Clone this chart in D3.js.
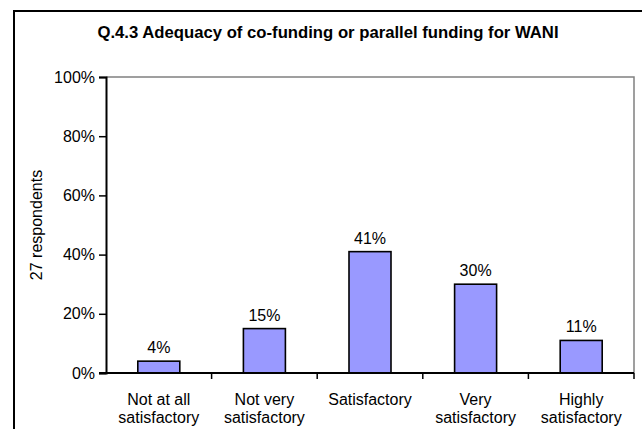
<!DOCTYPE html>
<html>
<head>
<meta charset="utf-8">
<script src="https://cdn.jsdelivr.net/npm/d3@7"></script>
<style>
  html, body { margin: 0; padding: 0; background: #fff; }
  svg { display: block; font-family: "Liberation Sans", Arial, sans-serif; }
</style>
</head>
<body>
<svg id="chart" width="642" height="429"></svg>
<script>
// Survey answers and their share of respondents (%)
const categories = [
  ["Not at all", "satisfactory"],
  ["Not very", "satisfactory"],
  ["Satisfactory"],
  ["Very", "satisfactory"],
  ["Highly", "satisfactory"]
];
const values = [4, 15, 41, 30, 11];
const yTicks = [0, 20, 40, 60, 80, 100];
const title = "Q.4.3 Adequacy of co-funding or parallel funding for WANI";
const yLabel = "27 respondents";

const svg = d3.select("#chart");
const plot = { left: 106, right: 634, top: 77, bottom: 373 };
const fontSize = 16;

// Outer chart frame (runs off the right and bottom edges)
svg.append("rect")
  .attr("x", 14).attr("y", 11)
  .attr("width", 700).attr("height", 500)
  .attr("fill", "#fff")
  .attr("stroke", "#000").attr("stroke-width", 2);

svg.append("text")
  .attr("x", 328).attr("y", 38)
  .attr("text-anchor", "middle")
  .attr("font-weight", "bold")
  .attr("font-size", 16.7)
  .text(title);

const xBand = d3.scaleBand()
  .domain(d3.range(categories.length))
  .range([plot.left, plot.right]);

const y = d3.scaleLinear().domain([0, 100]).range([plot.bottom, plot.top]);

// Plot area border: grey top and right edges
svg.append("path")
  .attr("d", `M${plot.left},${plot.top}H${plot.right}V${plot.bottom}`)
  .attr("fill", "none").attr("stroke", "#808080").attr("stroke-width", 1.5);

// Bars
svg.append("g").selectAll("rect")
  .data(values)
  .join("rect")
  .attr("x", (d, i) => xBand(i) + xBand.bandwidth() / 2 - 21)
  .attr("width", 42)
  .attr("y", d => y(d))
  .attr("height", d => y(0) - y(d))
  .attr("fill", "#9999FF")
  .attr("stroke", "#000").attr("stroke-width", 1.6);

// Value labels
svg.append("g").selectAll("text")
  .data(values)
  .join("text")
  .attr("x", (d, i) => xBand(i) + xBand.bandwidth() / 2)
  .attr("y", d => y(d) - 8)
  .attr("text-anchor", "middle")
  .attr("font-size", fontSize)
  .text(d => d + "%");

// Y axis
const yAxis = svg.append("g")
  .attr("transform", `translate(${plot.left},0)`)
  .call(d3.axisLeft(y).tickValues(yTicks).tickFormat(d => d + "%").tickSize(7).tickPadding(4));
yAxis.select(".domain").attr("stroke", "#000").attr("stroke-width", 2);
yAxis.selectAll(".tick line").attr("stroke", "#000").attr("stroke-width", 1.5);
yAxis.selectAll(".tick text").attr("font-size", fontSize).attr("font-family", null).attr("fill", "#000");

// X axis: ticks at the category boundaries
const xAxisG = svg.append("g").attr("transform", `translate(0,${plot.bottom})`);
xAxisG.append("line")
  .attr("x1", plot.left - 7).attr("x2", plot.right)
  .attr("stroke", "#000").attr("stroke-width", 2);
xAxisG.selectAll("line.tick")
  .data(d3.range(1, categories.length + 1))
  .join("line")
  .attr("class", "tick")
  .attr("x1", i => xBand.step() * i + plot.left)
  .attr("x2", i => xBand.step() * i + plot.left)
  .attr("y1", 0).attr("y2", 6)
  .attr("stroke", "#000").attr("stroke-width", 1.5);

xAxisG.selectAll("text")
  .data(categories)
  .join("text")
  .attr("x", (d, i) => xBand(i) + xBand.bandwidth() / 2)
  .attr("y", 32)
  .attr("text-anchor", "middle")
  .attr("font-size", fontSize)
  .selectAll("tspan")
  .data(d => d)
  .join("tspan")
  .attr("x", function () { return this.parentNode.getAttribute("x"); })
  .attr("dy", (d, j) => j === 0 ? 0 : 18)
  .text(d => d);

// Y axis title
svg.append("text")
  .attr("transform", `translate(42,${(plot.top + plot.bottom) / 2}) rotate(-90)`)
  .attr("text-anchor", "middle")
  .attr("font-size", fontSize)
  .text(yLabel);
</script>
</body>
</html>
